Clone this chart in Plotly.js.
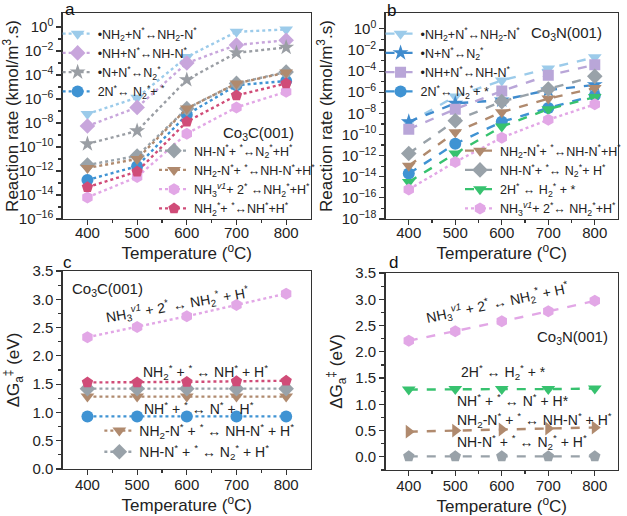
<!DOCTYPE html>
<html><head><meta charset="utf-8">
<script src="https://cdn.plot.ly/plotly-3.0.1.min.js"></script>
<style>html,body{margin:0;padding:0;background:#fff}#chart{width:627px;height:516px}</style>
</head><body><div id="chart"></div>
<script>
const temps = [400, 500, 600, 700, 800];
const tempTicks = [400, 500, 600, 700, 800];
const tempMinor = [450, 550, 650, 750];

// Panel a: Co3C(001) reaction rates (kmol/m3.s)
const a_NH2_N = [5.6e-8, 1.3e-6, 3.2e-3, 0.40, 0.63];
const a_NH_N = [5.6e-9, 2.0e-7, 1.0e-3, 3.2e-2, 7.9e-2];
const a_N_N = [1.8e-10, 2.2e-9, 4.0e-5, 7.1e-3, 2.0e-2];
const a_2N = [1.8e-13, 2.5e-12, 5.0e-8, 1.4e-5, 3.2e-5];
const a_NHN = [3.2e-12, 1.8e-11, 1.6e-7, 2.0e-5, 1.8e-4];
const a_NH2N = [1.8e-12, 1.0e-11, 1.6e-7, 2.0e-5, 1.6e-4];
const a_NH3 = [6.3e-15, 3.2e-13, 1.3e-9, 2.0e-7, 4.0e-6];
const a_NH2 = [4.5e-14, 8.9e-13, 1.3e-8, 2.0e-6, 2.0e-5];

// Panel b: Co3N(001) reaction rates
const b_NH2_N = [1.3e-9, 4.0e-7, 1.3e-5, 1.8e-4, 2.0e-3];
const b_N_N = [1.6e-9, 8.9e-8, 1.8e-7, 1.6e-6, 5.0e-6];
const b_NH_N = [3.2e-10, 2.5e-8, 1.3e-6, 4.0e-5, 4.0e-4];
const b_2N = [2.0e-14, 1.3e-11, 1.6e-9, 3.2e-8, 5.0e-7];
const b_NH2N = [1.1e-13, 1.6e-10, 1.3e-8, 2.5e-7, 2.5e-6];
const b_NHN = [1.6e-12, 2.0e-9, 1.3e-7, 2.0e-6, 3.2e-5];
const b_2H = [3.2e-15, 1.6e-12, 5.6e-10, 2.5e-8, 3.5e-7];
const b_NH3 = [6.3e-16, 2.5e-13, 5.0e-11, 2.5e-9, 7.1e-8];

// Panel c: Co3C(001) free energy barriers (eV)
const c_NH3 = [2.33, 2.51, 2.70, 2.90, 3.10];
const c_NH2 = [1.53, 1.53, 1.54, 1.55, 1.56];
const c_NHN = [1.42, 1.42, 1.42, 1.42, 1.42];
const c_NH2N = [1.28, 1.28, 1.28, 1.28, 1.28];
const c_NH = [0.93, 0.93, 0.93, 0.93, 0.93];

// Panel d: Co3N(001) free energy barriers (eV)
const d_NH3 = [2.21, 2.39, 2.58, 2.77, 2.97];
const d_2H = [1.28, 1.29, 1.29, 1.29, 1.30];
const d_NH2N = [0.48, 0.50, 0.52, 0.54, 0.56];
const d_NHN = [0.01, 0.01, 0.01, 0.01, 0.01];

const logTicks = [1, 1e-2, 1e-4, 1e-6, 1e-8, 1e-10, 1e-12, 1e-14, 1e-16, 1e-18];
const logTickText = ['10<sup>0</sup>', '10<sup>−2</sup>', '10<sup>−4</sup>', '10<sup>−6</sup>', '10<sup>−8</sup>', '10<sup>−10</sup>', '10<sup>−12</sup>', '10<sup>−14</sup>', '10<sup>−16</sup>', '10<sup>−18</sup>'];
const logMinor = [1e-1, 1e-3, 1e-5, 1e-7, 1e-9, 1e-11, 1e-13, 1e-15, 1e-17];

const C = {
  lblue: '#9ccbea', lav: '#c8a6dc', lav2: '#b9a6d8', gstar: '#9a9ea4', blue: '#3f93d3',
  bstar: '#3f8bcd', gdia: '#99a2a9', tan: '#b08a6e', pink: '#e2a7e6', crim: '#d04c78', green: '#37c26f'
};

function tr(x, y, xa, ya, name, color, symbol, dash, legend, show, size) {
  return {
    x: x, y: y, xaxis: xa, yaxis: ya, name: name, type: 'scatter', mode: 'lines+markers',
    line: {color: color, width: 2.4, dash: dash},
    marker: {color: color, symbol: symbol, size: size || 12, line: {width: 0}},
    legend: legend, showlegend: show
  };
}

const data = [
  tr(temps, a_NH2_N, 'x', 'y', '•NH<sub>2</sub>+N<sup>*</sup>↔NH<sub>2</sub>-N<sup>*</sup>', C.lblue, 'triangle-down', 'dot', 'legend', true),
  tr(temps, a_NH_N, 'x', 'y', '•NH+N<sup>*</sup>↔NH-N<sup>*</sup>', C.lav, 'diamond', 'dot', 'legend', true),
  tr(temps, a_N_N, 'x', 'y', '•N+N<sup>*</sup>↔N<sub>2</sub><sup>*</sup>', C.gstar, 'star', 'dot', 'legend', true),
  tr(temps, a_2N, 'x', 'y', '2N<sup>*</sup>↔ N<sub>2</sub><sup>*</sup>+ <sup>*</sup>', C.blue, 'circle', 'dot', 'legend', true),
  tr(temps, a_NHN, 'x', 'y', 'NH-N<sup>*</sup>+ <sup>*</sup>↔N<sub>2</sub><sup>*</sup>+H<sup>*</sup>', C.gdia, 'diamond', 'dot', 'legend2', true),
  tr(temps, a_NH2N, 'x', 'y', 'NH<sub>2</sub>-N<sup>*</sup>+ <sup>*</sup>↔NH-N<sup>*</sup>+H<sup>*</sup>', C.tan, 'triangle-down', 'dot', 'legend2', true),
  tr(temps, a_NH3, 'x', 'y', 'NH<sub>3</sub><sup><i>v1</i></sup>+ 2<sup>*</sup> ↔NH<sub>2</sub><sup>*</sup>+H<sup>*</sup>', C.pink, 'hexagon', 'dot', 'legend2', true),
  tr(temps, a_NH2, 'x', 'y', 'NH<sub>2</sub><sup>*</sup>+ <sup>*</sup>↔NH<sup>*</sup>+H<sup>*</sup>', C.crim, 'pentagon', 'dot', 'legend2', true),
  tr(temps, b_NH2_N, 'x2', 'y2', '•NH<sub>2</sub>+N<sup>*</sup>↔NH<sub>2</sub>-N<sup>*</sup>', C.lblue, 'triangle-down', 'dash', 'legend3', true),
  tr(temps, b_N_N, 'x2', 'y2', '•N+N<sup>*</sup>↔N<sub>2</sub><sup>*</sup>', C.bstar, 'star', 'dash', 'legend3', true),
  tr(temps, b_NH_N, 'x2', 'y2', '•NH+N<sup>*</sup>↔NH-N<sup>*</sup>', C.lav2, 'square', 'dash', 'legend3', true, 11),
  tr(temps, b_2N, 'x2', 'y2', '2N<sup>*</sup>↔ N<sub>2</sub><sup>*</sup>+ *', C.blue, 'circle', 'dash', 'legend3', true),
  tr(temps, b_NH2N, 'x2', 'y2', 'NH<sub>2</sub>-N<sup>*</sup>+ <sup>*</sup>↔NH-N<sup>*</sup>+H<sup>*</sup>', C.tan, 'triangle-down', 'dash', 'legend4', true),
  tr(temps, b_NHN, 'x2', 'y2', 'NH-N<sup>*</sup>+ <sup>*</sup>↔ N<sub>2</sub><sup>*</sup>+ H<sup>*</sup>', C.gdia, 'diamond', 'dash', 'legend4', true),
  tr(temps, b_2H, 'x2', 'y2', '2H<sup>*</sup> ↔ H<sub>2</sub><sup>*</sup> + *', C.green, 'triangle-down', 'dash', 'legend4', true),
  tr(temps, b_NH3, 'x2', 'y2', 'NH<sub>3</sub><sup><i>v1</i></sup>+ 2<sup>*</sup>↔ NH<sub>2</sub><sup>*</sup>+H<sup>*</sup>', C.pink, 'hexagon', 'dot', 'legend4', true),
  tr(temps, c_NH3, 'x3', 'y3', 'c NH3', C.pink, 'hexagon', 'dot', 'legend5', false),
  tr(temps, c_NH, 'x3', 'y3', 'c NH', C.blue, 'circle', 'dot', 'legend5', false),
  tr(temps, c_NH2N, 'x3', 'y3', 'NH<sub>2</sub>-N<sup>*</sup> + <sup>*</sup> ↔ NH-N<sup>*</sup> + H<sup>*</sup>', C.tan, 'triangle-down', 'dot', 'legend5', true),
  tr(temps, c_NHN, 'x3', 'y3', 'NH-N<sup>*</sup> + <sup>*</sup> ↔ N<sub>2</sub><sup>*</sup> + H<sup>*</sup>', C.gdia, 'diamond', 'dot', 'legend5', true),
  tr(temps, c_NH2, 'x3', 'y3', 'c NH2', C.crim, 'pentagon', 'dot', 'legend5', false),
  tr(temps, d_NH3, 'x4', 'y4', 'd NH3', C.pink, 'hexagon', 'dash', 'legend5', false),
  tr(temps, d_2H, 'x4', 'y4', 'd 2H', C.green, 'triangle-down', 'dash', 'legend5', false),
  tr(temps, d_NH2N, 'x4', 'y4', 'd NH2N', C.tan, 'triangle-right', 'dash', 'legend5', false),
  tr(temps, d_NHN, 'x4', 'y4', 'd NHN', C.gdia, 'pentagon', 'dash', 'legend5', false)
];

const W = 627, H = 516;
const px = v => v / W;
const py = v => 1 - v / H;
const FAM = 'Liberation Sans, Arial, sans-serif';
const tickFont = {family: FAM, size: 15, color: '#222'};
const titleFont = {family: FAM, size: 17, color: '#222'};

function xax(dom, anchor, lblShift, standoff) {
  return {
    domain: dom, anchor: anchor, range: [350, 850], tickvals: tempTicks, ticks: 'outside', ticklen: 5, tickwidth: 1.2,
    tickcolor: '#333', showline: true, linecolor: '#333', linewidth: 1.3, mirror: true, showgrid: false, zeroline: false,
    tickfont: tickFont, ticklabelstandoff: lblShift,
    title: {text: 'Temperature (<sup>o</sup>C)', font: titleFont, standoff: standoff},
    minor: {tickvals: tempMinor, ticks: 'outside', ticklen: 3, tickcolor: '#333'}
  };
}
function yaxLog(dom, anchor, range) {
  return {
    domain: dom, anchor: anchor, type: 'log', range: range, tickvals: logTicks, ticktext: logTickText,
    ticks: 'outside', ticklen: 5, tickwidth: 1.2, tickcolor: '#333', showline: true, linecolor: '#333', linewidth: 1.3,
    mirror: true, showgrid: false, zeroline: false, tickfont: tickFont,
    title: {text: 'Reaction rate (kmol/m<sup>3</sup>.s)', font: titleFont, standoff: 4},
    minor: {tickvals: logMinor, ticks: 'outside', ticklen: 3, tickcolor: '#333'}
  };
}
function yaxLin(dom, anchor, range) {
  return {
    domain: dom, anchor: anchor, range: range, dtick: 0.5, tick0: 0, tickformat: '.1f',
    ticks: 'outside', ticklen: 5, tickwidth: 1.2, tickcolor: '#333', showline: true, linecolor: '#333', linewidth: 1.3,
    mirror: true, showgrid: false, zeroline: false, tickfont: tickFont,
    title: {text: 'ΔG<sub>a</sub><sup>‡</sup> (eV)', font: titleFont, standoff: 8},
    minor: {dtick: 0.25, tick0: 0, ticks: 'outside', ticklen: 3, tickcolor: '#333'}
  };
}

function leg(x, y, size) {
  return {x: px(x), y: py(y), xanchor: 'left', yanchor: 'top', bgcolor: 'rgba(0,0,0,0)', borderwidth: 0,
    font: {family: FAM, size: size, color: '#222'}, tracegroupgap: 0};
}

const annFont = {family: FAM, size: 15, color: '#222'};
const eqFont = {family: FAM, size: 14, color: '#222'};
const lblFont = {family: FAM, size: 17, color: '#111'};
function ann(text, x, y, font, opts) {
  return Object.assign({text: text, x: px(x), y: py(y), xref: 'paper', yref: 'paper', showarrow: false, font: font,
    xanchor: 'center', yanchor: 'middle'}, opts || {});
}

const layout = {
  width: W, height: H, margin: {l: 0, r: 0, t: 0, b: 0}, paper_bgcolor: '#fff', plot_bgcolor: '#fff',
  xaxis: xax([px(63), px(313)], 'y', -5, 2),
  yaxis: yaxLog([1 - 219 / H, 1 - 13 / H], 'x', [-16, 1.17]),
  xaxis2: xax([px(388), px(622)], 'y2', -5, 2),
  yaxis2: yaxLog([1 - 219 / H, 1 - 13 / H], 'x2', [-18, 1.5]),
  xaxis3: xax([px(63), px(313)], 'y3', -3, 5),
  yaxis3: yaxLin([1 - 469 / H, 1 - 271 / H], 'x3', [0, 3.5]),
  xaxis4: xax([px(388), px(622)], 'y4', -3, 5),
  yaxis4: yaxLin([1 - 470 / H, 1 - 273 / H], 'x4', [-0.25, 3.5]),
  legend: leg(58, 19, 12.5),
  legend2: leg(155, 136, 12.5),
  legend3: leg(383, 19, 12.5),
  legend4: leg(463, 136, 12.5),
  legend5: leg(100, 415, 14),
  annotations: [
    ann('a', 70, 9, lblFont),
    ann('b', 394, 10, lblFont),
    ann('c', 68, 262, lblFont),
    ann('d', 396, 262, lblFont),
    ann('Co<sub>3</sub>C(001)', 260, 133, annFont),
    ann('Co<sub>3</sub>N(001)', 570, 33, annFont),
    ann('Co<sub>3</sub>C(001)', 108, 289, annFont),
    ann('Co<sub>3</sub>N(001)', 576, 337, annFont),
    ann('NH<sub>3</sub><sup><i>v1</i></sup> + 2<sup>*</sup> ↔ NH<sub>2</sub><sup>*</sup> + H<sup>*</sup>', 179, 305, eqFont, {textangle: -10}),
    ann('NH<sub>2</sub><sup>*</sup> + <sup>*</sup> ↔ NH<sup>*</sup> + H<sup>*</sup>', 142, 372, eqFont, {xanchor: 'left'}),
    ann('NH<sup>*</sup> + <sup>*</sup> ↔ N<sup>*</sup> + H<sup>*</sup>', 143, 408, eqFont, {xanchor: 'left'}),
    ann('NH<sub>3</sub><sup><i>v1</i></sup> + 2<sup>*</sup> ↔ NH<sub>2</sub><sup>*</sup> + H<sup>*</sup>', 501, 303, eqFont, {textangle: -12}),
    ann('2H<sup>*</sup> ↔ H<sub>2</sub><sup>*</sup> + *', 462, 372, eqFont, {xanchor: 'left'}),
    ann('NH<sup>*</sup> + <sup>*</sup> ↔ N<sup>*</sup> + H*', 458, 400, eqFont, {xanchor: 'left'}),
    ann('NH<sub>2</sub>-N<sup>*</sup> + <sup>*</sup> ↔ NH-N<sup>*</sup> + H<sup>*</sup>', 458, 420, eqFont, {xanchor: 'left'}),
    ann('NH-N<sup>*</sup> + <sup>*</sup> ↔ N<sub>2</sub><sup>*</sup> + H<sup>*</sup>', 458, 442, eqFont, {xanchor: 'left'})
  ]
};

Plotly.newPlot('chart', data, layout, {displayModeBar: false, staticPlot: true});
</script>
</body></html>
